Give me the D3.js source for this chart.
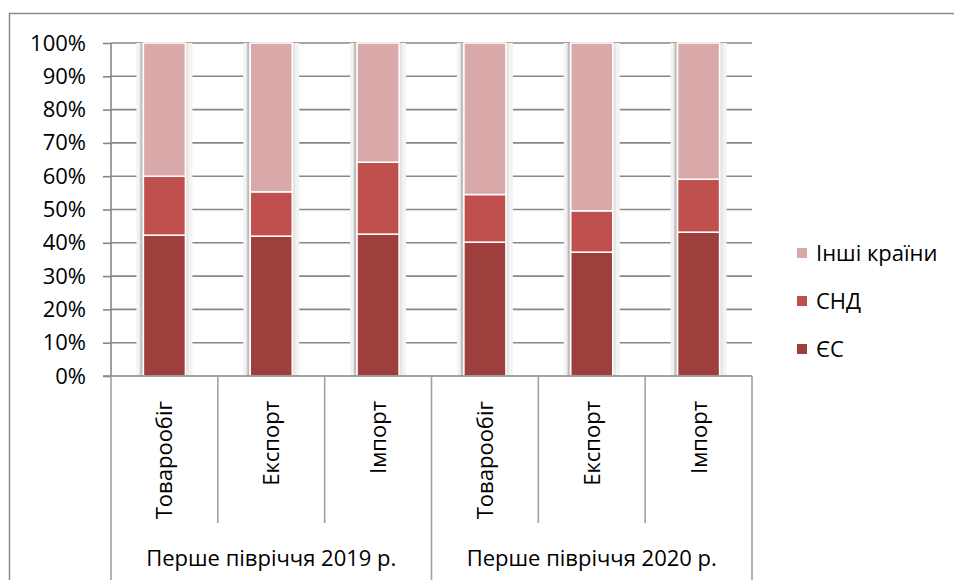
<!DOCTYPE html>
<html><head><meta charset="utf-8">
<script src="https://cdn.jsdelivr.net/npm/d3@7"></script>
<style>body{margin:0;background:#fff}svg{display:block;font-family:"Open Sans",sans-serif}</style>
</head><body><svg id="c" width="954" height="580"></svg>
<script>
const categories = ["Товарообіг","Експорт","Імпорт","Товарообіг","Експорт","Імпорт"];
const groups = ["Перше півріччя 2019 р.","Перше півріччя 2020 р."];
const seriesNames = ["ЄС","СНД","Інші країни"];
const euValues = [42.3, 42.0, 42.6, 40.2, 37.2, 43.2];
const cisValues = [17.7, 13.3, 21.6, 14.3, 12.4, 15.9];
const otherValues = [40.0, 44.7, 35.8, 45.5, 50.4, 40.9];
const yTicks = [0,10,20,30,40,50,60,70,80,90,100];
const colors = ["#9e3f3e","#c0504d","#d9a9a9"];

const FS = 22;
const svg = d3.select("#c");
const x0 = 111, x1 = 752, yTop = 43, yBot = 376;
const x = d3.scaleBand().domain(d3.range(categories.length)).range([x0,x1]);
const y = d3.scaleLinear().domain([0,100]).range([yBot,yTop]);
const grid = "#878787";

// outer border
svg.append("rect").attr("x",9.5).attr("y",13.5).attr("width",960).attr("height",600)
  .attr("fill","none").attr("stroke","#8c8c8c").attr("stroke-width",1.5);

// gridlines
svg.append("g").selectAll("line").data(yTicks.filter(d=>d>0)).join("line")
  .attr("x1",x0).attr("x2",x1).attr("y1",d=>y(d)).attr("y2",d=>y(d))
  .attr("stroke",grid).attr("stroke-width",1.6);

// y axis
const yAxis = svg.append("g").attr("transform",`translate(${x0},0)`)
  .call(d3.axisLeft(y).tickValues(yTicks).tickFormat(d=>d+"%").tickSize(8).tickPadding(17));
yAxis.select(".domain").remove();
yAxis.selectAll(".tick line").attr("stroke",grid).attr("stroke-width",1.6);
yAxis.selectAll(".tick text").attr("font-size",FS).attr("fill","#000").attr("font-family","Open Sans");

// stacked data
const rows = categories.map((c,i)=>({i, "ЄС":euValues[i], "СНД":cisValues[i], "Інші країни":otherValues[i]}));
const stack = d3.stack().keys(seriesNames)(rows);
const bw = 42;
const bx = i => x(i) + x.bandwidth()/2 - bw/2;

// bar shadows
const sh = svg.append("g");
rows.forEach(r=>{
  sh.append("rect").attr("x",bx(r.i)-7).attr("y",yTop).attr("width",bw+14).attr("height",yBot-yTop).attr("fill","#f3f3f3");
  sh.append("rect").attr("x",bx(r.i)-4).attr("y",yTop).attr("width",bw+7).attr("height",yBot-yTop).attr("fill","#e4e4e4");
  sh.append("rect").attr("x",bx(r.i)-3).attr("y",yTop).attr("width",2).attr("height",yBot-yTop).attr("fill","#bdbdbd");
});

svg.append("g").selectAll("g").data(stack).join("g").attr("fill",(d,i)=>colors[i])
  .selectAll("rect").data(d=>d).join("rect")
  .attr("x",d=>bx(d.data.i)).attr("width",bw)
  .attr("y",d=>y(d[1])).attr("height",d=>y(d[0])-y(d[1]))
  .attr("stroke","#fff").attr("stroke-width",1.5);

// x axis baseline
svg.append("line").attr("x1",103).attr("x2",x1).attr("y1",yBot).attr("y2",yBot).attr("stroke",grid).attr("stroke-width",1.6);
// dividers
d3.range(categories.length+1).forEach(k=>{
  const xx = k===categories.length ? x1 : x(k);
  const outer = k%3===0;
  svg.append("line").attr("x1",xx).attr("x2",xx).attr("y1",yBot).attr("y2",outer?580:523)
    .attr("stroke","#a0a0a0").attr("stroke-width",1.6);
});
svg.append("line").attr("x1",x0).attr("x2",x0).attr("y1",yTop).attr("y2",yBot).attr("stroke",grid).attr("stroke-width",1.6);

// category labels
svg.append("g").selectAll("text").data(categories).join("text")
  .attr("transform",(d,i)=>`translate(${x(i)+x.bandwidth()/2+8},401) rotate(-90)`)
  .attr("text-anchor","end").attr("font-size",FS).attr("fill","#000").text(d=>d);

// group labels
svg.append("g").selectAll("text").data(groups).join("text")
  .attr("x",(d,g)=>(x(g*3)+ (g===1?x1:x(3)))/2).attr("y",566)
  .attr("text-anchor","middle").attr("font-size",FS).attr("fill","#000").text(d=>d);

// legend
const legendOrder = [2,1,0];
const lg = svg.append("g");
legendOrder.forEach((si,k)=>{
  const cy = 253 + k*48;
  lg.append("rect").attr("x",797).attr("y",cy-5).attr("width",10).attr("height",10).attr("fill",colors[si]);
  lg.append("text").attr("x",816).attr("y",cy).attr("dy","0.35em").attr("font-size",FS).attr("fill","#000").text(seriesNames[si]);
});
</script></body></html>
